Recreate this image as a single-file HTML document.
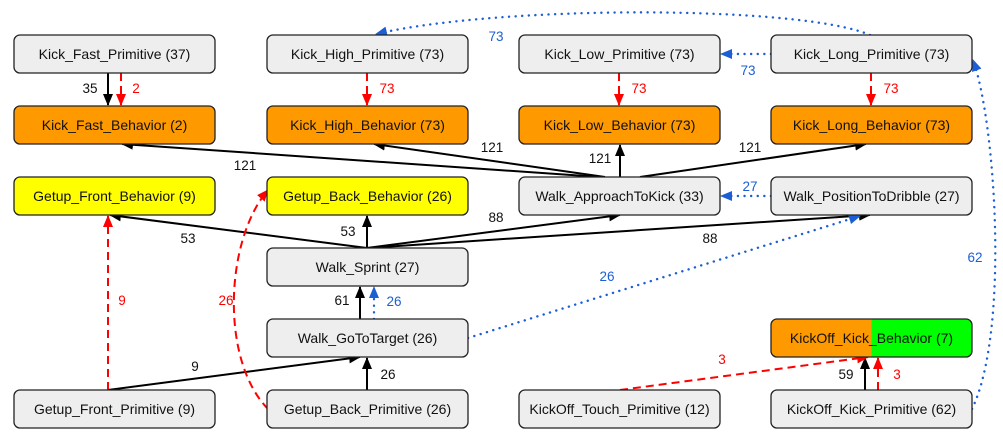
<!DOCTYPE html>
<html><head><meta charset="utf-8"><style>
html,body{margin:0;padding:0;background:#fff;}
svg{display:block;font-family:"Liberation Sans",Arial,sans-serif;}
</style></head><body>
<svg width="1003" height="447" viewBox="0 0 1003 447" xmlns="http://www.w3.org/2000/svg">
<defs>
<marker id="ak" markerWidth="12" markerHeight="10" refX="11" refY="5" orient="auto" markerUnits="userSpaceOnUse"><path d="M0,0 L12,5 L0,10 z" fill="#000"/></marker>
<marker id="ar" markerWidth="12" markerHeight="10" refX="11" refY="5" orient="auto" markerUnits="userSpaceOnUse"><path d="M0,0 L12,5 L0,10 z" fill="#ff0000"/></marker>
<marker id="ab" markerWidth="12" markerHeight="10" refX="11" refY="5" orient="auto" markerUnits="userSpaceOnUse"><path d="M0,0 L12,5 L0,10 z" fill="#1c5fd4"/></marker>
<linearGradient id="kk" x1="0" x2="1" y1="0" y2="0"><stop offset="0.5" stop-color="#ff9900"/><stop offset="0.5" stop-color="#00ff00"/></linearGradient>
</defs>
<g fill="none" stroke-width="2">
<g stroke="#000" marker-end="url(#ak)">
<line x1="108" y1="73" x2="108" y2="105"/>
<line x1="600" y1="177" x2="122" y2="144"/>
<line x1="605" y1="177" x2="374" y2="144"/>
<line x1="620" y1="177" x2="620" y2="145"/>
<line x1="640" y1="177" x2="866" y2="144"/>
<line x1="367" y1="248" x2="110" y2="215"/>
<line x1="367" y1="248" x2="367" y2="216"/>
<line x1="367" y1="248" x2="620" y2="215"/>
<line x1="367" y1="248" x2="870" y2="215"/>
<line x1="360" y1="319" x2="360" y2="287"/>
<line x1="108" y1="390" x2="360" y2="357"/>
<line x1="367" y1="390" x2="367" y2="358"/>
<line x1="865" y1="390" x2="865" y2="358"/>
</g>
<g stroke="#ff0000" stroke-dasharray="8,5" marker-end="url(#ar)">
<line x1="121" y1="73" x2="121" y2="105"/>
<line x1="367" y1="73" x2="367" y2="105"/>
<line x1="619" y1="73" x2="619" y2="105"/>
<line x1="871" y1="73" x2="871" y2="105"/>
<line x1="108" y1="390" x2="108" y2="216"/>
<path d="M268,409 C220,360 225,240 268,190"/>
<line x1="620" y1="390" x2="868" y2="357"/>
<line x1="878" y1="390" x2="878" y2="358"/>
</g>
<g stroke="#1c5fd4" stroke-width="2.4" stroke-linecap="round" stroke-dasharray="0.1,6.5" marker-end="url(#ab)">
<line x1="374" y1="319" x2="374" y2="287"/>
<line x1="468" y1="338" x2="860" y2="216"/>
<path d="M972,409 C1010,330 995,120 973,60"/>
<path d="M870,35 C800,5 500,5 376,34"/>
<line x1="771" y1="54" x2="721" y2="54"/>
<line x1="771" y1="196" x2="721" y2="196"/>
</g>
</g>
<g stroke="#222" stroke-width="1.3">
<rect x="14" y="35" width="201" height="38" rx="6" fill="#eeeeee"/>
<rect x="267" y="35" width="201" height="38" rx="6" fill="#eeeeee"/>
<rect x="519" y="35" width="201" height="38" rx="6" fill="#eeeeee"/>
<rect x="771" y="35" width="201" height="38" rx="6" fill="#eeeeee"/>
<rect x="14" y="106" width="201" height="38" rx="6" fill="#ff9900"/>
<rect x="267" y="106" width="201" height="38" rx="6" fill="#ff9900"/>
<rect x="519" y="106" width="201" height="38" rx="6" fill="#ff9900"/>
<rect x="771" y="106" width="201" height="38" rx="6" fill="#ff9900"/>
<rect x="14" y="177" width="201" height="38" rx="6" fill="#ffff00"/>
<rect x="267" y="177" width="201" height="38" rx="6" fill="#ffff00"/>
<rect x="519" y="177" width="201" height="38" rx="6" fill="#eeeeee"/>
<rect x="771" y="177" width="201" height="38" rx="6" fill="#eeeeee"/>
<rect x="267" y="248" width="201" height="38" rx="6" fill="#eeeeee"/>
<rect x="267" y="319" width="201" height="38" rx="6" fill="#eeeeee"/>
<rect x="771" y="319" width="201" height="38" rx="6" fill="url(#kk)"/>
<rect x="14" y="390" width="201" height="38" rx="6" fill="#eeeeee"/>
<rect x="267" y="390" width="201" height="38" rx="6" fill="#eeeeee"/>
<rect x="519" y="390" width="201" height="38" rx="6" fill="#eeeeee"/>
<rect x="771" y="390" width="201" height="38" rx="6" fill="#eeeeee"/>
</g>
<g font-size="14" text-anchor="middle" fill="#111">
<text x="114.5" y="59">Kick_Fast_Primitive (37)</text>
<text x="367.5" y="59">Kick_High_Primitive (73)</text>
<text x="619.5" y="59">Kick_Low_Primitive (73)</text>
<text x="871.5" y="59">Kick_Long_Primitive (73)</text>
<text x="114.5" y="130">Kick_Fast_Behavior (2)</text>
<text x="367.5" y="130">Kick_High_Behavior (73)</text>
<text x="619.5" y="130">Kick_Low_Behavior (73)</text>
<text x="871.5" y="130">Kick_Long_Behavior (73)</text>
<text x="114.5" y="201">Getup_Front_Behavior (9)</text>
<text x="367.5" y="201">Getup_Back_Behavior (26)</text>
<text x="619.5" y="201">Walk_ApproachToKick (33)</text>
<text x="871.5" y="201">Walk_PositionToDribble (27)</text>
<text x="367.5" y="272">Walk_Sprint (27)</text>
<text x="367.5" y="343">Walk_GoToTarget (26)</text>
<text x="871.5" y="343">KickOff_Kick_Behavior (7)</text>
<text x="114.5" y="414">Getup_Front_Primitive (9)</text>
<text x="367.5" y="414">Getup_Back_Primitive (26)</text>
<text x="619.5" y="414">KickOff_Touch_Primitive (12)</text>
<text x="871.5" y="414">KickOff_Kick_Primitive (62)</text>
</g>
<g font-size="13.5" text-anchor="middle">
<g fill="#111">
<text x="90" y="93">35</text>
<text x="245" y="170">121</text>
<text x="492" y="152">121</text>
<text x="600" y="163">121</text>
<text x="750" y="152">121</text>
<text x="188" y="243">53</text>
<text x="348" y="236">53</text>
<text x="496" y="222">88</text>
<text x="710" y="243">88</text>
<text x="342" y="305">61</text>
<text x="195" y="371">9</text>
<text x="388" y="379">26</text>
<text x="846" y="379">59</text>
</g>
<g fill="#ff0000">
<text x="136" y="93">2</text>
<text x="387" y="93">73</text>
<text x="639" y="93">73</text>
<text x="891" y="93">73</text>
<text x="122" y="305">9</text>
<text x="226" y="305">26</text>
<text x="722" y="364">3</text>
<text x="897" y="379">3</text>
</g>
<g fill="#1c5fd4">
<text x="496" y="41">73</text>
<text x="748" y="75">73</text>
<text x="750" y="191">27</text>
<text x="394" y="306">26</text>
<text x="607" y="281">26</text>
<text x="975" y="262">62</text>
</g>
</g>
</svg>
</body></html>
